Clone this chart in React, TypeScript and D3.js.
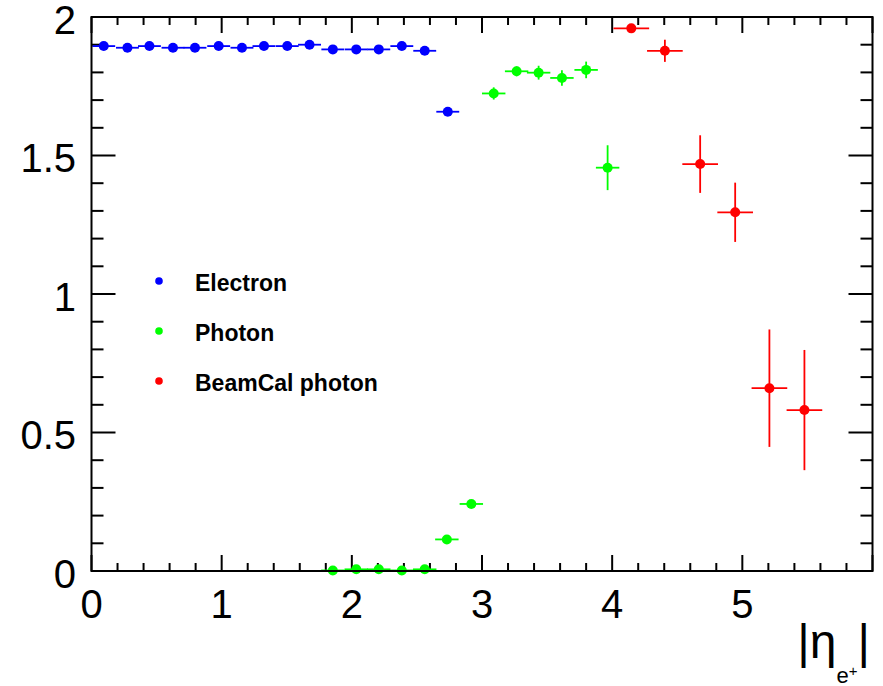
import React from "react";
import * as d3 from "d3";

const electronX = [0.094, 0.276, 0.445, 0.626, 0.795, 0.977, 1.156, 1.325, 1.504, 1.675, 1.854, 2.034, 2.207, 2.384, 2.56, 2.737];
const electronY = [1.895, 1.889, 1.895, 1.889, 1.889, 1.895, 1.889, 1.895, 1.895, 1.9, 1.883, 1.883, 1.883, 1.895, 1.878, 1.658];
const electronYErr = [0.004, 0.004, 0.004, 0.004, 0.004, 0.004, 0.004, 0.004, 0.004, 0.004, 0.004, 0.004, 0.004, 0.004, 0.005, 0.01];
const electronXErr = 0.088;

const photonX = [1.854, 2.034, 2.207, 2.384, 2.56, 2.73, 2.918, 3.09, 3.266, 3.435, 3.614, 3.8, 3.965];
const photonY = [0.002, 0.006, 0.006, 0.002, 0.006, 0.114, 0.242, 1.724, 1.804, 1.799, 1.78, 1.809, 1.456];
const photonYErr = [0.003, 0.003, 0.003, 0.003, 0.003, 0.008, 0.01, 0.022, 0.018, 0.025, 0.028, 0.03, 0.081];
const photonXErr = 0.09;

const beamcalX = [4.147, 4.405, 4.676, 4.945, 5.208, 5.477];
const beamcalY = [1.959, 1.878, 1.469, 1.295, 0.66, 0.581];
const beamcalYErr = [0.005, 0.04, 0.104, 0.107, 0.212, 0.217];
const beamcalXErr = 0.137;

const xTickLabels = ["0", "1", "2", "3", "4", "5"];
const yTickLabels = ["0", "0.5", "1", "1.5", "2"];
const legendLabels = ["Electron", "Photon", "BeamCal photon"];
const seriesColors = ["#0000ff", "#00ff00", "#ff0000"];

const W = 883;
const H = 686;
const L = 91.5, R = 872.5, T = 17, B = 571;

export default function App() {
  const x = d3.scaleLinear().domain([0, 6]).range([L, R]);
  const y = d3.scaleLinear().domain([0, 2]).range([B, T]);

  const series = [
    { xs: electronX, ys: electronY, ye: electronYErr, xe: electronXErr, color: seriesColors[0] },
    { xs: photonX, ys: photonY, ye: photonYErr, xe: photonXErr, color: seriesColors[1] },
    { xs: beamcalX, ys: beamcalY, ye: beamcalYErr, xe: beamcalXErr, color: seriesColors[2] },
  ];

  const xMinor = d3.range(0, 31).map((i) => i * 0.2).filter((v) => v <= 6.0001);
  const yMinor = d3.range(0, 21).map((i) => i * 0.1);
  const font = "'Liberation Sans', Arial, Helvetica, sans-serif";

  return (
    <svg width={W} height={H} style={{ position: "absolute", left: 0, top: 0, background: "#fff" }}>
      <rect x={0} y={0} width={W} height={H} fill="#fff" />
      {/* ticks */}
      <g stroke="#000" strokeWidth={2}>
        {xMinor.map((v, i) => {
          const major = Math.abs(v - Math.round(v)) < 1e-6;
          const len = major ? 16 : 8;
          return (
            <g key={"xt" + i}>
              <line x1={x(v)} x2={x(v)} y1={B} y2={B - len} />
              <line x1={x(v)} x2={x(v)} y1={T} y2={T + len} />
            </g>
          );
        })}
        {yMinor.map((v, i) => {
          const major = Math.abs(v * 2 - Math.round(v * 2)) < 1e-6;
          const len = major ? 24 : 12;
          return (
            <g key={"yt" + i}>
              <line x1={L} x2={L + len} y1={y(v)} y2={y(v)} />
              <line x1={R} x2={R - len} y1={y(v)} y2={y(v)} />
            </g>
          );
        })}
      </g>
      {/* data */}
      {series.map((s, si) => (
        <g key={"s" + si} stroke={s.color} fill={s.color} strokeWidth={1.8}>
          {s.xs.map((xv, i) => (
            <g key={i}>
              <line x1={x(xv - s.xe)} x2={x(xv + s.xe)} y1={y(s.ys[i])} y2={y(s.ys[i])} />
              <line x1={x(xv)} x2={x(xv)} y1={y(s.ys[i] - s.ye[i])} y2={y(s.ys[i] + s.ye[i])} />
              <circle cx={x(xv)} cy={y(s.ys[i])} r={5} stroke="none" />
            </g>
          ))}
        </g>
      ))}
      {/* frame */}
      <rect x={L} y={T} width={R - L} height={B - T} fill="none" stroke="#000" strokeWidth={2} />
      {/* tick labels */}
      <g fontFamily={font} fontSize={40} fill="#000">
        {xTickLabels.map((t) => (
          <text key={"xl" + t} x={x(+t)} y={B + 47} textAnchor="middle">{t}</text>
        ))}
        {yTickLabels.map((t) => (
          <text key={"yl" + t} x={76} y={y(+t) + 16.5} textAnchor="end">{t}</text>
        ))}
      </g>
      {/* axis title */}
      <text x={870} y={658} fontFamily={font} fontSize={48} textAnchor="end" fill="#000">
        |η
        <tspan fontSize={22} dy={25}>e</tspan>
        <tspan fontSize={15} dy={-7}>+</tspan>
        <tspan fontSize={48} dy={-18}>|</tspan>
      </text>
      {/* legend */}
      <g fontFamily={font}>
        {legendLabels.map((lab, i) => (
          <g key={"lg" + i}>
            <circle cx={159} cy={281 + i * 50} r={3.8} fill={seriesColors[i]} />
            <text x={195} y={281 + i * 50 + 9.7} fontSize={23} fontWeight="bold" fill="#000">{lab}</text>
          </g>
        ))}
      </g>
    </svg>
  );
}
